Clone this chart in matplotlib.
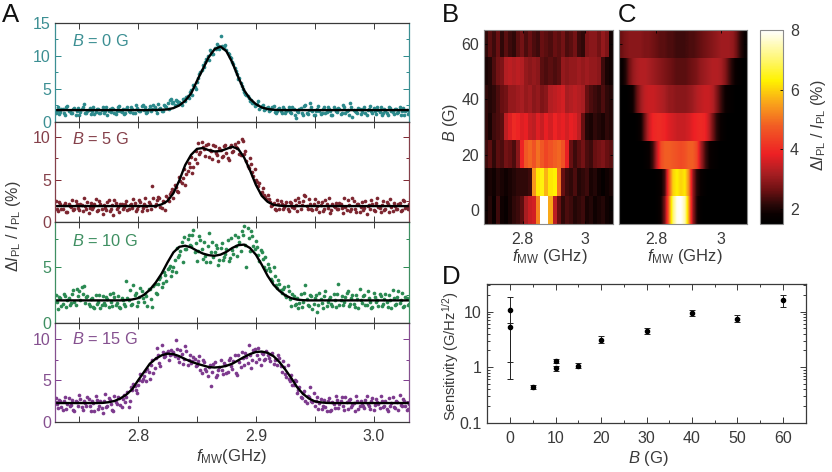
#!/usr/bin/env python
import numpy as np
import matplotlib
matplotlib.use('Agg')
import matplotlib.pyplot as plt
from matplotlib.colors import LinearSegmentedColormap, Normalize
from matplotlib.cm import ScalarMappable
from matplotlib.ticker import MultipleLocator, LogLocator, NullFormatter, FixedFormatter, FixedLocator

plt.rcParams['font.family'] = ['Liberation Sans', 'DejaVu Sans']
plt.rcParams['mathtext.fontset'] = 'custom'
plt.rcParams['mathtext.rm'] = 'Liberation Sans'
plt.rcParams['mathtext.it'] = 'Liberation Sans:italic'
plt.rcParams['mathtext.default'] = 'regular'

## DATA ##
sweep = [2.730, 2.732, 2.734, 2.736, 2.738, 2.740, 2.742, 2.744, 2.746, 2.748,
         2.750, 2.752, 2.754, 2.756, 2.758, 2.760, 2.762, 2.764, 2.766, 2.768,
         2.770, 2.772, 2.774, 2.776, 2.778, 2.780, 2.782, 2.784, 2.786, 2.788,
         2.790, 2.792, 2.794, 2.796, 2.798, 2.800, 2.802, 2.804, 2.806, 2.808,
         2.810, 2.812, 2.814, 2.816, 2.818, 2.820, 2.822, 2.824, 2.826, 2.828,
         2.830, 2.832, 2.834, 2.836, 2.838, 2.840, 2.842, 2.844, 2.846, 2.848,
         2.850, 2.852, 2.854, 2.856, 2.858, 2.860, 2.862, 2.864, 2.866, 2.868,
         2.870, 2.872, 2.874, 2.876, 2.878, 2.880, 2.882, 2.884, 2.886, 2.888,
         2.890, 2.892, 2.894, 2.896, 2.898, 2.900, 2.902, 2.904, 2.906, 2.908,
         2.910, 2.912, 2.914, 2.916, 2.918, 2.920, 2.922, 2.924, 2.926, 2.928,
         2.930, 2.932, 2.934, 2.936, 2.938, 2.940, 2.942, 2.944, 2.946, 2.948,
         2.950, 2.952, 2.954, 2.956, 2.958, 2.960, 2.962, 2.964, 2.966, 2.968,
         2.970, 2.972, 2.974, 2.976, 2.978, 2.980, 2.982, 2.984, 2.986, 2.988,
         2.990, 2.992, 2.994, 2.996, 2.998, 3.000, 3.002, 3.004, 3.006, 3.008,
         3.010, 3.012, 3.014, 3.016, 3.018, 3.020, 3.022, 3.024, 3.026, 3.028,
         3.030]
sweep2 = [2.731, 2.733, 2.735, 2.737, 2.739, 2.741, 2.743, 2.745, 2.747, 2.749,
          2.751, 2.753, 2.755, 2.757, 2.759, 2.761, 2.763, 2.765, 2.767, 2.769,
          2.771, 2.773, 2.775, 2.777, 2.779, 2.781, 2.783, 2.785, 2.787, 2.789,
          2.791, 2.793, 2.795, 2.797, 2.799, 2.801, 2.803, 2.805, 2.807, 2.809,
          2.811, 2.813, 2.815, 2.817, 2.819, 2.821, 2.823, 2.825, 2.827, 2.829,
          2.831, 2.833, 2.835, 2.837, 2.839, 2.841, 2.843, 2.845, 2.847, 2.849,
          2.851, 2.853, 2.855, 2.857, 2.859, 2.861, 2.863, 2.865, 2.867, 2.869,
          2.871, 2.873, 2.875, 2.877, 2.879, 2.881, 2.883, 2.885, 2.887, 2.889,
          2.891, 2.893, 2.895, 2.897, 2.899, 2.901, 2.903, 2.905, 2.907, 2.909,
          2.911, 2.913, 2.915, 2.917, 2.919, 2.921, 2.923, 2.925, 2.927, 2.929,
          2.931, 2.933, 2.935, 2.937, 2.939, 2.941, 2.943, 2.945, 2.947, 2.949,
          2.951, 2.953, 2.955, 2.957, 2.959, 2.961, 2.963, 2.965, 2.967, 2.969,
          2.971, 2.973, 2.975, 2.977, 2.979, 2.981, 2.983, 2.985, 2.987, 2.989,
          2.991, 2.993, 2.995, 2.997, 2.999, 3.001, 3.003, 3.005, 3.007, 3.009,
          3.011, 3.013, 3.015, 3.017, 3.019, 3.021, 3.023, 3.025, 3.027, 3.029]

pts_0g = [1.3, 2.2, 1.5, 1.9, 1.1, 2.4, 1.7, 1.4, 2.1, 1.6,
          1.0, 1.9, 2.7, 1.4, 1.8, 1.2, 2.2, 1.5, 2.0, 1.3,
          2.3, 1.6, 1.1, 1.9, 2.1, 1.4, 1.7, 2.4, 1.5, 1.2,
          2.0, 1.7, 2.3, 1.4, 2.5, 1.8, 1.6, 2.6, 2.2, 1.5,
          2.4, 1.9, 2.2, 1.4, 2.0, 1.7, 2.5, 2.3, 1.9, 3.4,
          3.0, 3.3, 2.7, 2.9, 3.5, 3.1, 3.9, 4.6, 4.1, 5.3,
          6.0, 7.2, 7.9, 8.3, 9.5, 9.3, 10.6, 10.2, 11.0, 11.5,
          13.0, 11.2, 11.6, 10.4, 9.8, 9.0, 8.2, 7.2, 6.6, 5.4,
          4.6, 4.1, 3.6, 3.3, 2.9, 2.6, 3.1, 2.2, 2.5, 2.0,
          2.3, 1.8, 2.2, 1.5, 1.6, 2.1, 1.3, 2.0, 1.7, 2.2,
          1.4, 1.9, 0.6, 1.5, 2.1, 1.0, 2.6, 1.2, 2.9, 1.6,
          1.1, 2.0, 1.7, 1.3, 2.2, 1.5, 1.9, 1.0, 2.3, 1.6,
          2.1, 1.2, 2.6, 1.4, 1.8, 2.9, 0.8, 1.7, 1.3, 2.0,
          1.5, 2.2, 1.1, 1.9, 1.6, 2.1, 1.2, 1.8, 2.3, 1.4,
          1.7, 1.0, 2.1, 1.5, 1.9, 1.3, 2.2, 1.6, 1.1, 1.8,
          1.3]
pts2_0g = [1.7, 1.2, 2.0, 1.4, 2.3, 1.6, 1.3, 1.9, 1.1, 2.1,
           1.5, 2.3, 1.3, 1.7, 2.1, 1.6, 1.2, 2.0, 1.4, 1.8,
           1.3, 2.2, 1.7, 1.5, 2.0, 1.2, 2.3, 1.6, 1.9, 1.4,
           2.2, 1.5, 1.9, 1.3, 2.1, 1.6, 2.4, 1.8, 1.4, 2.0,
           1.6, 2.5, 1.8, 2.7, 2.1, 1.6, 2.4, 2.8, 3.3, 2.9,
           2.6, 3.2, 3.0, 2.5, 3.4, 3.8, 3.6, 4.8, 5.6, 5.0,
           6.6, 7.5, 8.6, 9.0, 10.0, 10.9, 10.3, 11.2, 11.8, 11.0,
           11.5, 11.3, 10.9, 10.2, 9.6, 8.7, 7.7, 6.5, 5.9, 5.0,
           4.3, 3.9, 3.2, 2.8, 2.4, 2.7, 2.0, 2.4, 1.8, 2.1,
           1.6, 2.0, 2.4, 1.4, 1.9, 1.7, 2.2, 1.3, 1.8, 1.5,
           2.2, 1.1, 1.7, 2.0, 1.4, 2.4, 1.3, 1.8, 2.2, 1.0,
           1.6, 2.4, 1.2, 1.9, 1.4, 2.2, 1.7, 1.1, 2.0, 1.5,
           1.9, 1.3, 2.2, 1.6, 1.0, 2.3, 1.8, 1.5, 2.1, 1.2,
           2.0, 1.4, 1.8, 2.4, 1.3, 1.7, 2.2, 1.5, 1.1, 1.9,
           1.4, 2.3, 1.7, 1.2, 2.0, 1.5, 1.0, 2.1, 1.6, 1.2]
pts_5g = [2.5, 1.3, 2.1, 1.6, 2.3, 1.2, 1.9, 2.6, 1.5, 2.2,
          1.4, 2.0, 2.8, 1.6, 1.1, 2.3, 1.8, 2.7, 1.4, 2.1,
          1.0, 1.7, 2.4, 1.3, 2.0, 2.6, 1.6, 1.2, 2.2, 1.8,
          2.5, 1.5, 2.1, 2.7, 1.3, 1.9, 2.4, 1.7, 2.8, 1.4,
          2.2, 4.2, 1.9, 2.6, 2.9, 1.7, 2.4, 3.1, 2.5, 3.6,
          2.9, 4.1, 3.5, 4.8, 5.2, 4.4, 6.0, 6.5, 5.8, 7.4,
          7.0, 8.0, 9.4, 8.6, 9.0, 7.6, 8.3, 9.1, 8.1, 7.2,
          8.5, 7.8, 9.0, 7.5, 8.8, 8.2, 9.2, 8.7, 8.0, 9.8,
          8.0, 7.2, 6.4, 6.8, 5.4, 5.0, 4.2, 3.4, 4.0, 3.0,
          3.2, 2.4, 2.0, 1.6, 2.6, 1.5, 2.2, 1.8, 2.4, 1.3,
          2.3, 1.7, 2.0, 2.9, 1.5, 2.5, 3.1, 1.6, 2.2, 1.4,
          2.7, 1.9, 1.2, 2.4, 1.6, 2.1, 2.8, 1.4, 1.9, 2.3,
          1.5, 2.2, 1.1, 1.8, 2.6, 1.3, 2.9, 1.6, 2.1, 1.2,
          2.4, 1.7, 1.0, 2.0, 2.6, 1.4, 2.3, 1.8, 1.2, 2.5,
          1.5, 2.1, 2.7, 1.3, 1.9, 1.6, 2.3, 1.4, 2.5, 1.8,
          2.2]
pts2_5g = [1.6, 2.4, 1.5, 2.0, 1.2, 2.2, 1.8, 1.4, 2.5, 1.7,
           2.2, 1.3, 1.9, 2.4, 1.7, 1.5, 2.1, 1.3, 2.5, 1.6,
           2.0, 1.4, 2.6, 1.6, 0.9, 2.3, 1.8, 2.1, 1.5, 2.2,
           1.4, 2.0, 1.7, 2.3, 1.6, 2.6, 1.3, 2.2, 1.9, 2.4,
           1.6, 2.8, 2.2, 3.0, 1.8, 2.5, 1.4, 2.9, 3.3, 3.9,
           4.4, 3.7, 5.3, 4.6, 6.2, 5.6, 7.0, 7.7, 6.5, 8.3,
           9.3, 8.2, 8.8, 7.8, 9.2, 8.5, 7.4, 8.9, 7.9, 8.7,
           7.7, 8.9, 8.1, 7.3, 9.0, 8.4, 8.8, 9.4, 7.9, 9.5,
           8.4, 6.6, 7.5, 5.9, 6.2, 4.7, 4.6, 3.6, 3.2, 2.7,
           2.7, 1.9, 2.3, 1.4, 2.1, 2.5, 1.6, 2.0, 1.5, 2.4,
           1.8, 2.6, 1.3, 2.4, 2.0, 3.2, 1.9, 2.7, 1.5, 2.1,
           1.6, 2.4, 2.0, 1.3, 2.6, 1.7, 1.1, 2.2, 1.8, 1.5,
           2.3, 1.7, 2.8, 1.4, 2.0, 1.6, 2.5, 1.2, 2.2, 1.8,
           1.4, 2.5, 1.9, 1.6, 2.2, 1.3, 2.8, 1.7, 2.0, 1.4,
           2.4, 1.2, 1.8, 2.3, 1.6, 2.1, 1.3, 2.6, 1.7, 1.5]
pts_10g = [2.5, 1.2, 2.2, 1.7, 2.4, 2.0, 1.6, 2.6, 1.9, 3.0,
           2.8, 3.2, 3.3, 2.3, 1.7, 2.1, 1.4, 2.5, 1.9, 1.3,
           2.4, 1.6, 2.1, 2.6, 1.5, 2.3, 1.8, 1.4, 2.2, 1.7,
           3.7, 2.0, 1.6, 3.4, 2.7, 1.9, 3.1, 2.2, 2.6, 1.5,
           3.0, 1.4, 3.5, 2.6, 3.9, 3.2, 4.5, 3.7, 4.9, 4.2,
           5.0, 4.5, 5.9, 6.4, 5.4, 6.6, 7.5, 7.0, 7.9, 6.3,
           5.5, 7.8, 6.6, 7.2, 5.4, 8.0, 6.3, 5.9, 7.0, 5.2,
           6.7, 5.6, 6.2, 7.4, 5.8, 6.5, 7.9, 6.0, 7.2, 8.2,
           8.7, 5.0, 7.6, 8.2, 6.9, 7.3, 6.1, 6.5, 5.7, 5.9,
           5.3, 4.6, 3.7, 4.2, 3.1, 3.5, 2.7, 3.2, 2.3, 2.8,
           1.5, 2.4, 1.7, 1.3, 2.6, 1.9, 3.4, 1.6, 2.5, 1.2,
           2.2, 1.0, 2.7, 1.8, 2.4, 1.5, 2.1, 1.7, 2.6, 1.4,
           3.5, 2.0, 1.6, 2.3, 2.8, 1.7, 2.5, 1.4, 2.1, 3.0,
           1.8, 2.5, 1.6, 2.2, 1.3, 2.7, 1.9, 1.5, 2.4, 1.7,
           2.6, 1.4, 2.0, 2.9, 1.6, 2.3, 1.8, 2.7, 1.5, 2.2,
           1.7]
pts2_10g = [1.9, 2.3, 1.5, 2.6, 1.4, 2.2, 1.8, 2.9, 1.6, 2.4,
            2.0, 2.6, 1.8, 2.4, 1.5, 2.2, 1.3, 1.7, 2.5, 1.6,
            1.8, 2.3, 1.4, 1.9, 2.7, 1.6, 2.4, 1.3, 2.0, 1.5,
            2.2, 2.9, 1.7, 2.5, 1.5, 2.3, 2.8, 1.9, 2.4, 3.0,
            2.1, 3.3, 2.7, 3.5, 4.1, 3.6, 4.3, 4.8, 5.1, 4.6,
            5.6, 6.7, 6.1, 7.2, 7.7, 6.6, 7.9, 6.9, 8.3, 7.1,
            6.4, 7.4, 5.7, 6.0, 6.9, 5.4, 7.2, 6.3, 6.7, 5.6,
            7.1, 5.9, 6.6, 5.5, 7.6, 6.2, 6.9, 7.7, 6.4, 7.9,
            7.0, 8.5, 6.4, 7.8, 6.6, 6.8, 5.5, 6.3, 5.0, 4.7,
            4.9, 3.9, 5.0, 3.4, 3.8, 2.9, 3.0, 2.5, 3.3, 2.1,
            2.6, 1.6, 2.2, 1.8, 1.4, 2.7, 2.1, 1.5, 2.4, 1.7,
            2.5, 1.6, 2.1, 1.3, 2.8, 1.9, 2.3, 1.5, 2.0, 2.6,
            1.6, 2.4, 1.9, 2.7, 1.5, 2.2, 1.7, 2.5, 1.3, 2.0,
            2.4, 1.6, 2.8, 1.9, 1.4, 2.3, 2.0, 2.6, 1.5, 2.1,
            1.9, 2.5, 1.3, 2.2, 1.7, 2.8, 2.0, 1.4, 2.3, 1.6]
pts_15g = [2.9, 1.7, 2.6, 1.5, 3.0, 2.2, 1.9, 2.7, 1.4, 2.4,
           3.3, 1.8, 2.5, 2.0, 2.8, 1.4, 2.3, 3.1, 1.6, 2.6,
           1.1, 3.4, 2.0, 2.7, 1.5, 3.2, 2.2, 2.9, 1.8, 3.3,
           3.0, 1.8, 4.2, 4.6, 3.9, 4.4, 5.8, 5.2, 6.1, 6.4,
           5.2, 7.4, 6.5, 8.9, 7.1, 9.2, 7.8, 8.3, 7.5, 8.6,
           8.4, 9.8, 7.7, 8.6, 7.0, 9.1, 6.9, 8.0, 7.3, 7.6,
           6.8, 7.9, 5.9, 7.2, 6.1, 6.6, 4.3, 7.0, 5.4, 6.3,
           7.4, 5.8, 6.9, 6.0, 7.7, 6.4, 8.0, 5.6, 7.2, 8.4,
           6.8, 7.8, 9.2, 6.5, 8.6, 7.2, 8.9, 6.9, 8.2, 7.6,
           8.0, 7.3, 8.3, 7.5, 6.9, 7.7, 6.0, 6.6, 5.4, 5.2,
           5.6, 4.4, 4.9, 3.8, 3.0, 3.5, 2.6, 3.2, 4.2, 2.4,
           1.9, 3.0, 2.3, 1.6, 2.7, 1.3, 2.9, 1.5, 2.2, 3.1,
           1.7, 2.5, 1.9, 3.0, 1.6, 2.8, 2.1, 1.4, 2.6, 2.0,
           2.3, 1.7, 3.1, 2.0, 2.5, 1.5, 2.8, 2.2, 3.2, 1.8,
           2.6, 1.4, 2.0, 3.0, 1.7, 2.4, 3.3, 1.9, 2.5, 1.5,
           2.2]
pts2_15g = [2.2, 2.7, 1.8, 2.5, 1.6, 2.9, 2.1, 1.5, 2.6, 2.0,
            2.8, 1.5, 2.3, 3.0, 1.9, 2.5, 1.3, 2.7, 2.0, 1.7,
            2.6, 1.8, 2.9, 2.2, 1.4, 2.4, 3.0, 2.1, 2.8, 2.4,
            3.6, 2.6, 3.8, 4.3, 3.5, 5.0, 4.9, 5.5, 4.9, 6.0,
            6.8, 5.9, 7.7, 8.1, 6.7, 8.4, 7.9, 8.5, 8.0, 8.2,
            7.9, 8.7, 7.2, 8.2, 7.6, 8.5, 7.4, 7.1, 7.8, 6.7,
            7.3, 6.2, 7.5, 6.4, 5.5, 6.9, 6.0, 7.2, 5.7, 6.6,
            6.2, 7.1, 5.9, 7.5, 6.7, 7.3, 5.9, 8.1, 6.6, 7.7,
            8.3, 7.1, 8.0, 7.4, 8.8, 8.1, 7.6, 8.3, 7.5, 8.5,
            7.7, 8.2, 7.0, 7.6, 8.0, 6.7, 7.3, 5.8, 6.8, 4.9,
            4.4, 5.1, 3.5, 4.2, 2.9, 3.7, 2.3, 3.0, 2.6, 3.5,
            2.6, 1.6, 2.8, 2.0, 1.8, 2.5, 1.4, 2.4, 1.7, 2.7,
            2.2, 3.0, 1.5, 2.4, 2.7, 1.8, 2.3, 3.1, 1.6, 2.5,
            1.9, 2.7, 2.2, 1.6, 2.9, 2.1, 2.4, 1.7, 2.6, 2.0,
            1.6, 2.9, 2.3, 1.8, 2.6, 1.5, 2.1, 2.8, 2.0, 1.6]

fit_freq = [2.730, 2.735, 2.740, 2.745, 2.750, 2.755, 2.760, 2.765, 2.770, 2.775,
            2.780, 2.785, 2.790, 2.795, 2.800, 2.805, 2.810, 2.815, 2.820, 2.825,
            2.830, 2.835, 2.840, 2.845, 2.850, 2.855, 2.860, 2.865, 2.870, 2.875,
            2.880, 2.885, 2.890, 2.895, 2.900, 2.905, 2.910, 2.915, 2.920, 2.925,
            2.930, 2.935, 2.940, 2.945, 2.950, 2.955, 2.960, 2.965, 2.970, 2.975,
            2.980, 2.985, 2.990, 2.995, 3.000, 3.005, 3.010, 3.015, 3.020, 3.025,
            3.030]
fit_0g = [1.8, 1.8, 1.8, 1.8, 1.8, 1.8, 1.8, 1.8, 1.8, 1.8,
          1.8, 1.8, 1.8, 1.8, 1.8, 1.8, 1.8, 1.82, 1.85, 1.9,
          2.1, 2.5, 3.2, 4.3, 6.2, 8.0, 9.8, 11.0, 11.4, 10.7,
          9.0, 6.8, 4.8, 3.5, 2.7, 2.2, 1.95, 1.85, 1.8, 1.8,
          1.8, 1.8, 1.8, 1.8, 1.8, 1.8, 1.8, 1.8, 1.8, 1.8,
          1.8, 1.8, 1.8, 1.8, 1.8, 1.8, 1.8, 1.8, 1.8, 1.8,
          1.8]
fit_5g = [1.9, 1.9, 1.9, 1.9, 1.9, 1.9, 1.9, 1.9, 1.9, 1.9,
          1.9, 1.9, 1.9, 1.9, 1.9, 1.9, 1.9, 1.9, 2.1, 2.5,
          3.4, 4.9, 6.7, 7.9, 8.6, 8.7, 8.45, 8.3, 8.35, 8.6,
          8.85, 8.6, 7.6, 6.1, 4.4, 3.1, 2.4, 2.05, 1.95, 1.9,
          1.9, 1.9, 1.9, 1.9, 1.9, 1.9, 1.9, 1.9, 1.9, 1.9,
          1.9, 1.9, 1.9, 1.9, 1.9, 1.9, 1.9, 1.9, 1.9, 1.9,
          1.9]
fit_10g = [2.0, 2.0, 2.0, 2.0, 2.0, 2.0, 2.0, 2.0, 2.0, 2.0,
           2.0, 2.0, 2.02, 2.08, 2.2, 2.5, 2.95, 3.6, 4.4, 5.4,
           6.3, 6.8, 6.9, 6.75, 6.45, 6.2, 6.05, 6.0, 6.1, 6.35,
           6.7, 6.95, 7.0, 6.7, 6.1, 5.2, 4.2, 3.4, 2.85, 2.45,
           2.2, 2.07, 2.02, 2.0, 2.0, 2.0, 2.0, 2.0, 2.0, 2.0,
           2.0, 2.0, 2.0, 2.0, 2.0, 2.0, 2.0, 2.0, 2.0, 2.0,
           2.0]
fit_15g = [2.3, 2.3, 2.3, 2.3, 2.3, 2.3, 2.3, 2.3, 2.32, 2.4,
           2.55, 2.85, 3.3, 3.95, 5.0, 6.0, 7.0, 7.6, 8.0, 8.2,
           8.15, 7.9, 7.55, 7.25, 7.0, 6.8, 6.6, 6.55, 6.6, 6.75,
           7.0, 7.4, 7.8, 8.15, 8.4, 8.45, 8.3, 7.9, 7.2, 6.3,
           5.3, 4.2, 3.4, 2.85, 2.5, 2.38, 2.32, 2.3, 2.3, 2.3,
           2.3, 2.3, 2.3, 2.3, 2.3, 2.3, 2.3, 2.3, 2.3, 2.3,
           2.3]

# heat maps, one row per field (0, 10 ... 60 G), low field first
meas_map = [
    [1.9, 2.1, 1.8, 2.3, 1.9, 1.8, 2.0, 2.2, 2.3, 2.5, 3.2, 3.5, 3.6, 5.2, 8.0, 8.0,
     5.6, 3.4, 2.6, 2.2, 2.4, 2.3, 2.1, 2.2, 2.3, 2.0, 2.1, 1.9, 2.0, 2.1, 1.9, 1.8],
    [1.9, 2.0, 1.9, 2.1, 2.0, 1.9, 2.0, 2.1, 2.2, 2.2, 2.2, 2.3, 5.4, 6.2, 6.4, 5.7,
     6.2, 6.3, 5.0, 2.6, 2.3, 2.2, 2.4, 2.1, 2.2, 2.3, 2.0, 2.1, 1.9, 1.7, 1.9, 2.0],
    [2.3, 2.5, 2.2, 2.5, 2.4, 2.7, 2.6, 2.4, 2.9, 3.9, 4.7, 4.9, 4.6, 5.0, 4.7, 4.4,
     4.6, 4.8, 4.9, 4.6, 3.8, 2.6, 2.3, 2.5, 2.7, 2.4, 2.3, 2.6, 2.7, 2.8, 2.6, 2.5],
    [2.2, 2.0, 2.3, 2.4, 2.5, 3.4, 3.7, 4.0, 3.9, 3.7, 3.8, 3.5, 3.4, 3.7, 3.5, 3.8,
     3.6, 3.9, 3.7, 3.8, 3.6, 3.8, 3.7, 3.4, 2.6, 2.1, 2.0, 2.2, 2.1, 2.0, 2.2, 2.1],
    [2.2, 2.1, 2.2, 2.4, 2.6, 2.7, 3.0, 3.0, 3.1, 3.2, 3.0, 3.1, 2.9, 3.0, 2.8, 2.9,
     3.3, 3.4, 3.5, 3.6, 3.2, 3.3, 3.4, 3.3, 3.2, 2.6, 2.4, 2.3, 2.2, 2.4, 2.2, 2.1],
    [2.0, 2.1, 2.4, 2.7, 2.8, 3.3, 3.4, 3.3, 3.4, 3.3, 3.0, 2.9, 3.0, 2.9, 2.5, 2.4,
     2.5, 2.4, 2.5, 3.0, 2.9, 3.0, 3.0, 3.1, 3.0, 3.1, 3.0, 3.0, 2.9, 2.3, 2.0, 1.9],
    [2.2, 2.5, 2.3, 2.6, 2.2, 2.5, 2.3, 2.2, 2.5, 2.7, 2.4, 2.6, 2.4, 2.3, 2.6, 2.5,
     2.4, 2.6, 2.5, 2.7, 2.4, 2.5, 2.7, 2.3, 2.2, 2.8, 2.9, 2.9, 2.7, 3.0, 2.8, 1.9],
]
calc_map = [
    [1.5, 1.5, 1.5, 1.5, 1.5, 1.5, 1.5, 1.5, 1.5, 1.6, 1.9, 2.8, 5.0, 7.0, 7.9, 8.0,
     7.4, 5.4, 3.0, 2.0, 1.6, 1.5, 1.5, 1.5, 1.5, 1.5, 1.5, 1.5, 1.5, 1.5, 1.5, 1.5],
    [1.5, 1.5, 1.5, 1.5, 1.5, 1.5, 1.5, 1.5, 1.5, 1.6, 1.8, 2.4, 4.6, 6.0, 6.3, 6.0,
     6.2, 5.2, 3.0, 2.1, 1.8, 1.6, 1.5, 1.5, 1.5, 1.5, 1.5, 1.5, 1.5, 1.5, 1.5, 1.5],
    [1.5, 1.5, 1.5, 1.5, 1.5, 1.5, 1.6, 1.8, 2.3, 3.4, 4.5, 4.8, 4.8, 4.7, 4.6, 4.5,
     4.6, 4.8, 4.8, 4.4, 3.2, 2.4, 1.9, 1.7, 1.6, 1.5, 1.5, 1.5, 1.5, 1.5, 1.5, 1.5],
    [1.5, 1.5, 1.5, 1.5, 1.6, 1.9, 2.7, 3.5, 3.9, 4.0, 4.0, 3.9, 3.7, 3.6, 3.5, 3.5,
     3.5, 3.6, 3.8, 3.9, 4.0, 3.9, 3.4, 2.7, 2.1, 1.8, 1.6, 1.5, 1.5, 1.5, 1.5, 1.5],
    [1.5, 1.5, 1.6, 1.9, 2.6, 3.1, 3.4, 3.5, 3.5, 3.4, 3.3, 3.2, 3.0, 3.0, 2.9, 2.9,
     2.9, 3.0, 3.1, 3.3, 3.4, 3.5, 3.5, 3.3, 2.8, 2.3, 1.9, 1.7, 1.6, 1.5, 1.5, 1.5],
    [1.7, 2.0, 2.6, 3.0, 3.2, 3.3, 3.3, 3.2, 3.1, 3.0, 2.9, 2.8, 2.7, 2.6, 2.5, 2.5,
     2.5, 2.6, 2.7, 2.8, 3.0, 3.1, 3.2, 3.3, 3.3, 3.2, 2.9, 2.4, 2.0, 1.7, 1.6, 1.5],
    [2.6, 2.8, 2.9, 2.9, 2.9, 2.9, 2.8, 2.8, 2.7, 2.6, 2.5, 2.5, 2.4, 2.4, 2.3, 2.3,
     2.3, 2.4, 2.4, 2.5, 2.6, 2.7, 2.8, 2.9, 3.0, 3.1, 3.1, 3.1, 3.0, 2.6, 2.1, 1.8],
]
map_fields = [0, 10, 20, 30, 40, 50, 60]

sens_b = [0, 0, 5, 10, 10, 15, 20, 30, 40, 50, 60]
sens_val = [10.7, 5.3, 0.44, 1.27, 0.95, 1.07, 3.1, 4.4, 9.4, 7.5, 16.0]
sens_low = [1.25, 0.6, 0.40, 1.18, 0.85, 0.95, 2.7, 3.9, 8.2, 6.4, 12.0]
sens_high = [18.0, 6.3, 0.47, 1.38, 1.05, 1.2, 3.6, 5.0, 10.8, 8.7, 20.0]

panel_pts = [pts_0g, pts_5g, pts_10g, pts_15g]
panel_pts2 = [pts2_0g, pts2_5g, pts2_10g, pts2_15g]
panel_fit = [fit_0g, fit_5g, fit_10g, fit_15g]
panel_name = ['$\\mathit{B}$ = 0 G', '$\\mathit{B}$ = 5 G', '$\\mathit{B}$ = 10 G', '$\\mathit{B}$ = 15 G']
panel_col = ['#2b8a8c', '#7d2630', '#2a8a52', '#7d3a8e']
panel_text = ['#3c8f93', '#85404a', '#3f8f62', '#85508f']
panel_ymax = [15.0, 11.75, 9.0, 11.9]
panel_box = [(22.7, 122.0), (122.0, 222.3), (222.3, 322.7), (322.7, 422.3)]
panel_ylab = [41, 139, 241, 339]

W, H = 832.0, 472.0
fig = plt.figure(figsize=(W / 100, H / 100), dpi=100)
grey = '#3a3a3a'


def box(left, top, right, bottom):
    return fig.add_axes([left / W, 1 - bottom / H, (right - left) / W, (bottom - top) / H])


def ptext(x, y, s, **kw):
    kw.setdefault('ha', 'center')
    kw.setdefault('va', 'center')
    kw.setdefault('color', grey)
    fig.text(x / W, 1 - y / H, s, **kw)


## PANEL A ##
for i in range(4):
    ax = box(55, panel_box[i][0], 409, panel_box[i][1])
    ax.scatter(sweep, panel_pts[i], s=7, color=panel_col[i], linewidths=0)
    ax.scatter(sweep2, panel_pts2[i], s=7, color=panel_col[i], linewidths=0)
    ax.plot(fit_freq, panel_fit[i], color='k', lw=1.7)
    ax.set_xlim(2.7295, 3.03)
    ax.set_ylim(0, panel_ymax[i])
    ax.xaxis.set_major_locator(MultipleLocator(0.1))
    ax.xaxis.set_minor_locator(MultipleLocator(0.05))
    ax.yaxis.set_major_locator(MultipleLocator(5))
    ax.yaxis.set_minor_locator(MultipleLocator(2.5))
    ax.tick_params(which='both', direction='in', top=True, right=True, length=4, width=0.7)
    ax.tick_params(axis='x', which='both', color=grey)
    ax.tick_params(axis='y', which='both', color=panel_col[i], labelcolor=panel_text[i],
                   labelsize=11.5, pad=3)
    ax.tick_params(axis='y', which='minor', length=2.5)
    for side in ['left', 'right']:
        ax.spines[side].set_color(panel_text[i])
        ax.spines[side].set_linewidth(0.9)
    for side in ['top', 'bottom']:
        ax.spines[side].set_color(grey)
        ax.spines[side].set_linewidth(0.9)
    if i == 3:
        ax.set_xticks([2.8, 2.9, 3.0])
        ax.set_xticklabels(['2.8', '2.9', '3.0'])
        ax.tick_params(axis='x', labelsize=11.5, labelcolor=grey, pad=5)
    else:
        ax.tick_params(axis='x', labelbottom=False)
    ptext(72, panel_ylab[i], panel_name[i], ha='left', color=panel_text[i], fontsize=11.8)

ptext(14, 226, '$\\Delta\\mathit{I}_{PL}$ / $\\mathit{I}_{PL}$ (%)', rotation=90, fontsize=11.5)
ptext(232, 456, '$\\mathit{f}_{MW}$(GHz)', fontsize=12)

## PANELS B, C ##
cmap = LinearSegmentedColormap.from_list('heat', [
    (0.0, '#000000'), (0.05, '#0a0000'), (0.1, '#2a0808'), (0.17, '#6a1012'),
    (0.26, '#a81e22'), (0.36, '#ed2024'), (0.5, '#f15a24'), (0.62, '#f9a11b'),
    (0.74, '#fff200'), (0.86, '#fff77a'), (1.0, '#ffffff')])
norm = Normalize(1.5, 8)

ax_b = box(484, 30, 613, 224)
ax_b.imshow(np.array(meas_map), origin='lower', extent=(2.676, 3.089, -5, 65), aspect='auto',
            cmap=cmap, norm=norm, interpolation='nearest')
ax_b.set_xlim(2.676, 3.089)
ax_b.set_ylim(-5, 65)
ax_b.set_yticks([0, 20, 40, 60])

ax_c = box(619, 30, 747, 224)
for row, field in zip(calc_map, map_fields):
    # smooth along frequency only
    ax_c.imshow(np.array([row]), origin='lower', extent=(2.685, 3.08, field - 5, field + 5),
                aspect='auto', cmap=cmap, norm=norm, interpolation='bilinear')
ax_c.set_xlim(2.685, 3.08)
ax_c.set_ylim(-5, 65)
ax_c.set_yticks([0, 20, 40, 60])
ax_c.tick_params(axis='y', labelleft=False)

for ax in [ax_b, ax_c]:
    ax.set_xticks([2.8, 3.0])
    ax.set_xticklabels(['2.8', '3'])
    ax.tick_params(direction='in', length=2, width=0.6, top=True, right=True, labelsize=11.5,
                   labelcolor=grey)
    ax.tick_params(axis='x', pad=6)
    ax.tick_params(axis='y', pad=3.5)
    for s in ax.spines.values():
        s.set_color('#8a8a8a')
        s.set_linewidth(0.8)

ptext(451, 122, '$\\mathit{B}$ (G)', rotation=90, fontsize=11.5)
ptext(550, 257, '$\\mathit{f}_{MW}$ (GHz)', fontsize=12)
ptext(685, 257, '$\\mathit{f}_{MW}$ (GHz)', fontsize=12)

cax = box(760, 30, 783, 224)
cb = fig.colorbar(ScalarMappable(norm=norm, cmap=cmap), cax=cax)
cb.set_ticks([2, 4, 6, 8])
cb.ax.tick_params(direction='in', length=2, width=0.6, labelsize=11.5, labelcolor=grey, pad=5)
cb.outline.set_edgecolor('#8a8a8a')
cb.outline.set_linewidth(0.8)
ptext(818, 125, '$\\Delta\\mathit{I}_{PL}$ / $\\mathit{I}_{PL}$ (%)', rotation=90, fontsize=11.5)

## PANEL D ##
ax_d = box(487.3, 284.3, 805.7, 422.7)
sens_val = np.array(sens_val)
err = [sens_val - np.array(sens_low), np.array(sens_high) - sens_val]
ax_d.errorbar(sens_b, sens_val, yerr=err, fmt='o', color='k', ms=3.0, elinewidth=0.7,
              ecolor='#222222', capsize=2.5, capthick=0.7)
ax_d.set_yscale('log')
ax_d.set_xlim(-5, 65)
ax_d.set_ylim(0.1, 31)
ax_d.set_xticks([0, 10, 20, 30, 40, 50, 60])
ax_d.xaxis.set_minor_locator(MultipleLocator(5))
ax_d.yaxis.set_major_locator(FixedLocator([0.1, 1, 10]))
ax_d.yaxis.set_major_formatter(FixedFormatter(['0.1', '1', '10']))
ax_d.yaxis.set_minor_locator(LogLocator(base=10, subs=np.arange(2, 10), numticks=12))
ax_d.yaxis.set_minor_formatter(NullFormatter())
ax_d.tick_params(which='both', direction='in', top=True, right=True, width=0.7, colors=grey)
ax_d.tick_params(which='major', length=4, labelsize=11.5, pad=6)
ax_d.tick_params(which='minor', length=2.2)
ax_d.tick_params(axis='y', which='major', pad=4)
for s in ax_d.spines.values():
    s.set_color(grey)
    s.set_linewidth(0.9)
ptext(451, 356, 'Sensitivity (G/Hz$^{1/2}$)', rotation=90, fontsize=10.6)
ptext(648, 458, '$\\mathit{B}$ (G)', fontsize=12)

## PANEL LETTERS ##
for letter, x, y in [('A', 11, 15), ('B', 450, 15), ('C', 627, 15), ('D', 451, 277)]:
    ptext(x, y, letter, fontsize=18.5, color='#111111')

plt.savefig('out.png', dpi=100)
